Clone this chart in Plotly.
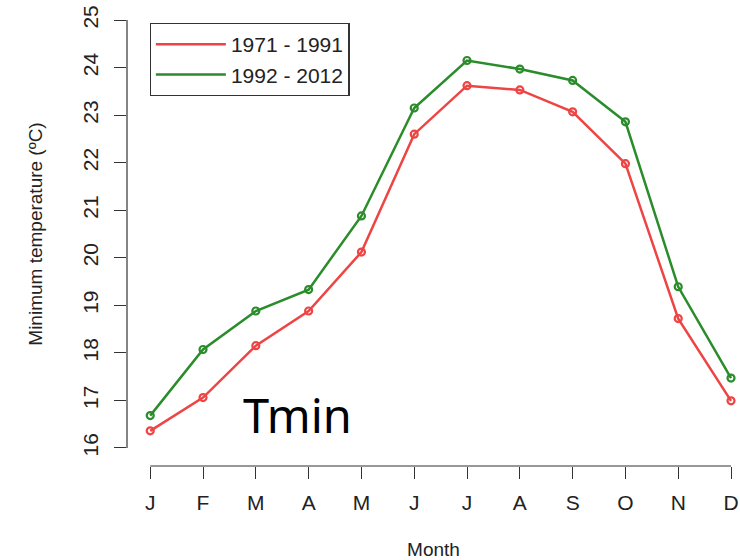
import plotly.graph_objects as go

months = ["J", "F", "M", "A", "M", "J", "J", "A", "S", "O", "N", "D"]
period1_label = "1971 - 1991"
period2_label = "1992 - 2012"
tmin_1971_1991 = [16.36, 17.06, 18.15, 18.88, 20.12, 22.60, 23.62, 23.53, 23.07, 21.98, 18.72, 16.99]
tmin_1992_2012 = [16.68, 18.07, 18.88, 19.33, 20.88, 23.15, 24.15, 23.97, 23.73, 22.86, 19.39, 17.47]
y_ticks = list(range(16, 26))

RED = "#EE4444"
GREEN = "#2A8C2A"
FONT = "Liberation Sans, Arial, sans-serif"

x_idx = list(range(1, len(months) + 1))

fig = go.Figure()
for vals, col in [(tmin_1971_1991, RED), (tmin_1992_2012, GREEN)]:
    fig.add_trace(go.Scatter(
        x=x_idx, y=vals, mode="lines+markers",
        line=dict(color=col, width=2.5),
        marker=dict(symbol="circle-open", size=7, color=col, line=dict(width=2.2, color=col)),
        showlegend=False, hoverinfo="skip", cliponaxis=False))
# legend-only entries (line only, like R legend)
for name, col in [(period1_label, RED), (period2_label, GREEN)]:
    fig.add_trace(go.Scatter(x=[None], y=[None], mode="lines", name=name,
                             line=dict(color=col, width=2.5)))

# R-style axis lines spanning only the tick range
fig.add_shape(type="line", xref="x", yref="paper", x0=x_idx[0], x1=x_idx[-1], y0=0, y1=0,
              line=dict(color="#333333", width=1.2))
fig.add_shape(type="line", xref="paper", yref="y", x0=0, x1=0, y0=y_ticks[0], y1=y_ticks[-1],
              line=dict(color="#333333", width=1.2))

fig.add_annotation(x=3.78, y=16.69, xref="x", yref="y", text="Tmin", showarrow=False,
                   xanchor="center", yanchor="middle",
                   font=dict(family="Noto Sans, sans-serif", size=47, color="black"))

fig.update_layout(
    width=740, height=560,
    margin=dict(l=127, r=0, t=2, b=94, autoexpand=False),
    paper_bgcolor="white", plot_bgcolor="white",
    font=dict(family=FONT, color="#222222"),
    legend=dict(x=0.037, y=0.955, xanchor="left", yanchor="top",
                bordercolor="#333333", borderwidth=1.2, bgcolor="white",
                font=dict(family=FONT, size=21, color="#222222"),
                itemwidth=70, entrywidth=230, tracegroupgap=0),
)
fig.update_xaxes(
    range=[0.56, 12.17], tickvals=x_idx, ticktext=months, automargin=False,
    showgrid=False, zeroline=False, showline=False,
    ticks="outside", ticklen=12, tickwidth=1.2, tickcolor="#333333",
    tickfont=dict(size=21, family=FONT, color="#222222"), ticklabelstandoff=6,
    title=dict(text="Month", font=dict(size=19, family=FONT, color="#222222"), standoff=31),
)
fig.update_yaxes(
    range=[15.62, 25.38], tickvals=y_ticks, automargin=False,
    showgrid=False, zeroline=False, showline=False,
    ticks="outside", ticklen=12, tickwidth=1.2, tickcolor="#333333",
    tickangle=-90,
    tickfont=dict(size=21, family=FONT, color="#222222"), ticklabelstandoff=8,
    title=dict(text="Minimum temperature (ºC)", font=dict(size=19, family=FONT, color="#222222"), standoff=30),
)

fig.write_html("out.html", config={"displayModeBar": False},
               post_script="document.body.style.margin='0';")
